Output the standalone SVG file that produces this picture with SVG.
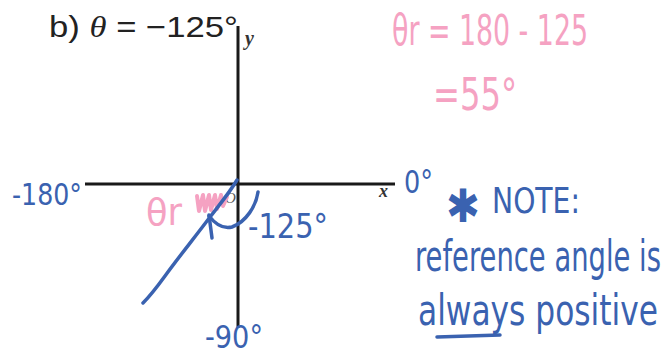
<svg xmlns="http://www.w3.org/2000/svg" width="672" height="356" viewBox="0 0 672 356">
<style>
.axis{stroke:#1a1a1a;stroke-width:3;fill:none}
.blue{fill:#3a62b0;font-family:"DejaVu Sans Condensed","Liberation Sans Narrow","Liberation Sans",sans-serif}
.pink{fill:#f5a2c2;font-family:"DejaVu Sans Condensed","Liberation Sans Narrow","Liberation Sans",sans-serif}
.bstroke{stroke:#3a62b0;stroke-width:3.5;fill:none;stroke-linecap:round;stroke-linejoin:round}
.pstroke{stroke:#f5a2c2;stroke-width:4;fill:none;stroke-linecap:round;stroke-linejoin:round}
.lbl{font-family:"Liberation Serif",serif;font-style:italic;font-weight:bold;fill:#333}
</style>
<rect width="672" height="356" fill="#ffffff"/>
<g id="title">
<text x="49" y="37" font-family="Liberation Sans, sans-serif" font-size="29" fill="#222" textLength="189" lengthAdjust="spacingAndGlyphs">b) <tspan font-family="Liberation Serif, serif" font-style="italic">θ</tspan> = −125°</text>
</g>
<g id="axes">
<line class="axis" x1="238" y1="26" x2="238" y2="328"/>
<line class="axis" x1="85" y1="184" x2="395" y2="184"/>
<text class="lbl" x="245" y="45" font-size="20">y</text>
<text class="lbl" x="379" y="197" font-size="18">x</text>
<text x="225" y="203" font-family="Liberation Serif, serif" font-style="italic" font-size="15" fill="#555">O</text>
</g>
<g id="connectors">
<path class="pstroke" d="M197,196 L199,211 L203,195 L205,211 L209,195 L211,210 L215,195 L217,209 L221,195 L223,206 L227,197"/>
<path class="bstroke" d="M237,180 C230,192 220,204 210,217 C195,237 178,258 165,276 C157,287 150,296 143,303"/>
<path class="bstroke" d="M258,192 C256,206 246,222 232,227 C224,229 216,225 209,216"/>
<path class="bstroke" d="M209,215 L212,238"/>
</g>
<g id="labels">
<text class="blue" x="12" y="205" font-size="30" textLength="70" lengthAdjust="spacingAndGlyphs">-180°</text>
<text class="blue" x="404" y="193" font-size="32" textLength="29" lengthAdjust="spacingAndGlyphs">0°</text>
<text class="blue" x="248" y="238" font-size="34" textLength="80" lengthAdjust="spacingAndGlyphs">-125°</text>
<text class="blue" x="205" y="348" font-size="32" textLength="58" lengthAdjust="spacingAndGlyphs">-90°</text>
<text class="pink" x="146" y="225" font-size="38" textLength="36" lengthAdjust="spacingAndGlyphs">θr</text>
</g>
<g id="formula">
<text class="pink" x="392" y="45" font-size="42" textLength="196" lengthAdjust="spacingAndGlyphs">θr = 180 - 125</text>
<text class="pink" x="433" y="110" font-size="44" textLength="84" lengthAdjust="spacingAndGlyphs">=55°</text>
</g>
<g id="note">
<text class="blue" x="446" y="222" font-size="46" textLength="34" lengthAdjust="spacingAndGlyphs">✱</text>
<text class="blue" x="492" y="213" font-size="35" textLength="88" lengthAdjust="spacingAndGlyphs">NOTE:</text>
<text class="blue" x="661" y="271" font-size="42" text-anchor="end" textLength="246" lengthAdjust="spacingAndGlyphs">reference angle is</text>
<text class="blue" x="658" y="325" font-size="42" text-anchor="end" textLength="240" lengthAdjust="spacingAndGlyphs">always positive</text>
<path class="bstroke" d="M437,337 L500,335"/>
</g>
</svg>
